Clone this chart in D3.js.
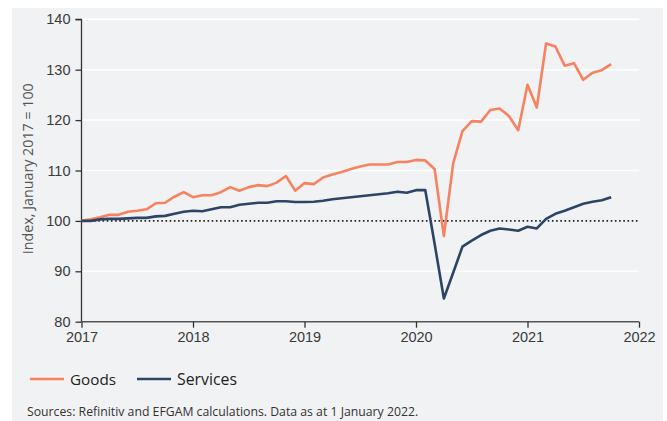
<!DOCTYPE html>
<html><head><meta charset="utf-8">
<script src="https://cdn.jsdelivr.net/npm/d3@7"></script>
<style>
html,body{margin:0;padding:0;background:#fff;}
svg{display:block;font-family:"Open Sans","Noto Sans",sans-serif;}
</style></head>
<body>
<svg id="c" width="667" height="421"></svg>
<script>
// Monthly index values, January 2017 = 100 (Jan 2017 .. Oct 2021)
const startYear = 2017;
const goods = [
  100.0,100.3,100.7,101.2,101.2,101.8,102.0,102.3,103.5,103.6,104.8,105.7,
  104.7,105.1,105.1,105.7,106.7,106.0,106.7,107.1,106.9,107.6,108.9,106.0,
  107.5,107.3,108.6,109.2,109.7,110.3,110.8,111.2,111.2,111.2,111.7,111.7,
  112.1,112.0,110.3,97.0,111.4,117.8,119.8,119.7,122.0,122.3,120.8,118.0,
  127.0,122.5,135.2,134.6,130.8,131.3,128.0,129.4,129.9,131.1
];
const services = [
  100.0,100.0,100.3,100.4,100.4,100.5,100.6,100.6,100.9,101.0,101.4,101.8,
  102.0,101.9,102.3,102.7,102.7,103.2,103.4,103.6,103.6,103.9,103.9,103.75,
  103.75,103.8,104.0,104.3,104.5,104.7,104.9,105.1,105.3,105.5,105.8,105.6,
  106.1,106.1,95.5,84.6,89.7,94.9,96.1,97.2,98.05,98.5,98.3,98.05,
  98.85,98.5,100.4,101.4,102.0,102.7,103.4,103.8,104.1,104.7
];
const yTicks = [80,90,100,110,120,130,140];
const xTicks = [2017,2018,2019,2020,2021,2022];
const seriesNames = ["Goods","Services"];
const seriesColors = ["#f7825f","#2c4465"];
const yLabel = "Index, January 2017 = 100";
const source = "Sources: Refinitiv and EFGAM calculations. Data as at 1 January 2022.";
const baseline = 100;

const svg = d3.select("#c");
const W = 667, H = 421;
const m = {left:81.5, right:639, top:19.3, bottom:321.7};

svg.append("rect").attr("x",12).attr("y",8).attr("width",651).attr("height",H-8).attr("fill","#f1f2f4");

const x = d3.scaleLinear().domain([2017,2022]).range([m.left,m.right]);
const y = d3.scaleLinear().domain([80,140]).range([m.bottom,m.top]);

// fit text to a target width
function fit(sel, target){
  const n = sel.node();
  const fs = parseFloat(sel.attr("font-size"));
  const len = n.getComputedTextLength();
  if (len > 0) sel.attr("font-size", (fs*target/len).toFixed(2));
  return sel;
}

// gridlines
svg.append("g").selectAll("line").data(yTicks.filter(v=>v!==80 && v!==baseline)).join("line")
  .attr("x1",m.left).attr("x2",m.right).attr("y1",d=>y(d)).attr("y2",d=>y(d))
  .attr("stroke","#ffffff").attr("stroke-width",1.5);

// baseline dotted
svg.append("line").attr("x1",m.left).attr("x2",m.right).attr("y1",y(baseline)).attr("y2",y(baseline))
  .attr("stroke","#222").attr("stroke-width",1.6).attr("stroke-dasharray","1.6,2.6");

// axes
const yAxis = svg.append("g").attr("transform",`translate(${m.left},0)`)
  .call(d3.axisLeft(y).tickValues(yTicks).tickSize(6).tickPadding(5).tickFormat(d3.format("d")));
yAxis.select(".domain").attr("stroke","#333").attr("stroke-width",1.3).attr("d",`M-6,${y(140)}H0V${y(80)}`);
yAxis.selectAll(".tick line").attr("stroke","#333").attr("stroke-width",1.3);
yAxis.selectAll("text").attr("font-size",14.5).attr("fill","#3a3a3a");

const xAxis = svg.append("g").attr("transform",`translate(0,${m.bottom})`)
  .call(d3.axisBottom(x).tickValues(xTicks).tickSize(6).tickPadding(4).tickFormat(d3.format("d")));
xAxis.select(".domain").attr("stroke","#555").attr("stroke-width",1.6).attr("d",`M${m.left},0H${m.right}`);
xAxis.selectAll(".tick line").attr("stroke","#333").attr("stroke-width",1.3);
xAxis.selectAll("text").attr("font-size",14.5).attr("fill","#3a3a3a");

// lines
const line = d3.line().x((d,i)=>x(startYear + i/12)).y(d=>y(d));
[goods,services].forEach((s,k)=>{
  svg.append("path").datum(s).attr("d",line).attr("fill","none")
    .attr("stroke",seriesColors[k]).attr("stroke-width",2.6).attr("stroke-linejoin","round");
});

// y label
const yl = svg.append("text").attr("transform",`translate(33,168.7) rotate(-90)`)
  .attr("text-anchor","middle").attr("font-size",14).attr("fill","#555").text(yLabel);
fit(yl, 171);

// legend
const lg = [{x:30,w:46},{x:137,w:60}];
seriesNames.forEach((n,k)=>{
  svg.append("line").attr("x1",lg[k].x).attr("x2",lg[k].x+34).attr("y1",379).attr("y2",379)
    .attr("stroke",seriesColors[k]).attr("stroke-width",2.6);
  const t = svg.append("text").attr("x",lg[k].x+40).attr("y",384.5).attr("font-size",15).attr("fill","#222").text(n);
  fit(t, lg[k].w);
});

const st = svg.append("text").attr("x",27).attr("y",415.5).attr("font-size",12).attr("fill","#333").text(source);
fit(st, 391);
</script>
</body></html>
